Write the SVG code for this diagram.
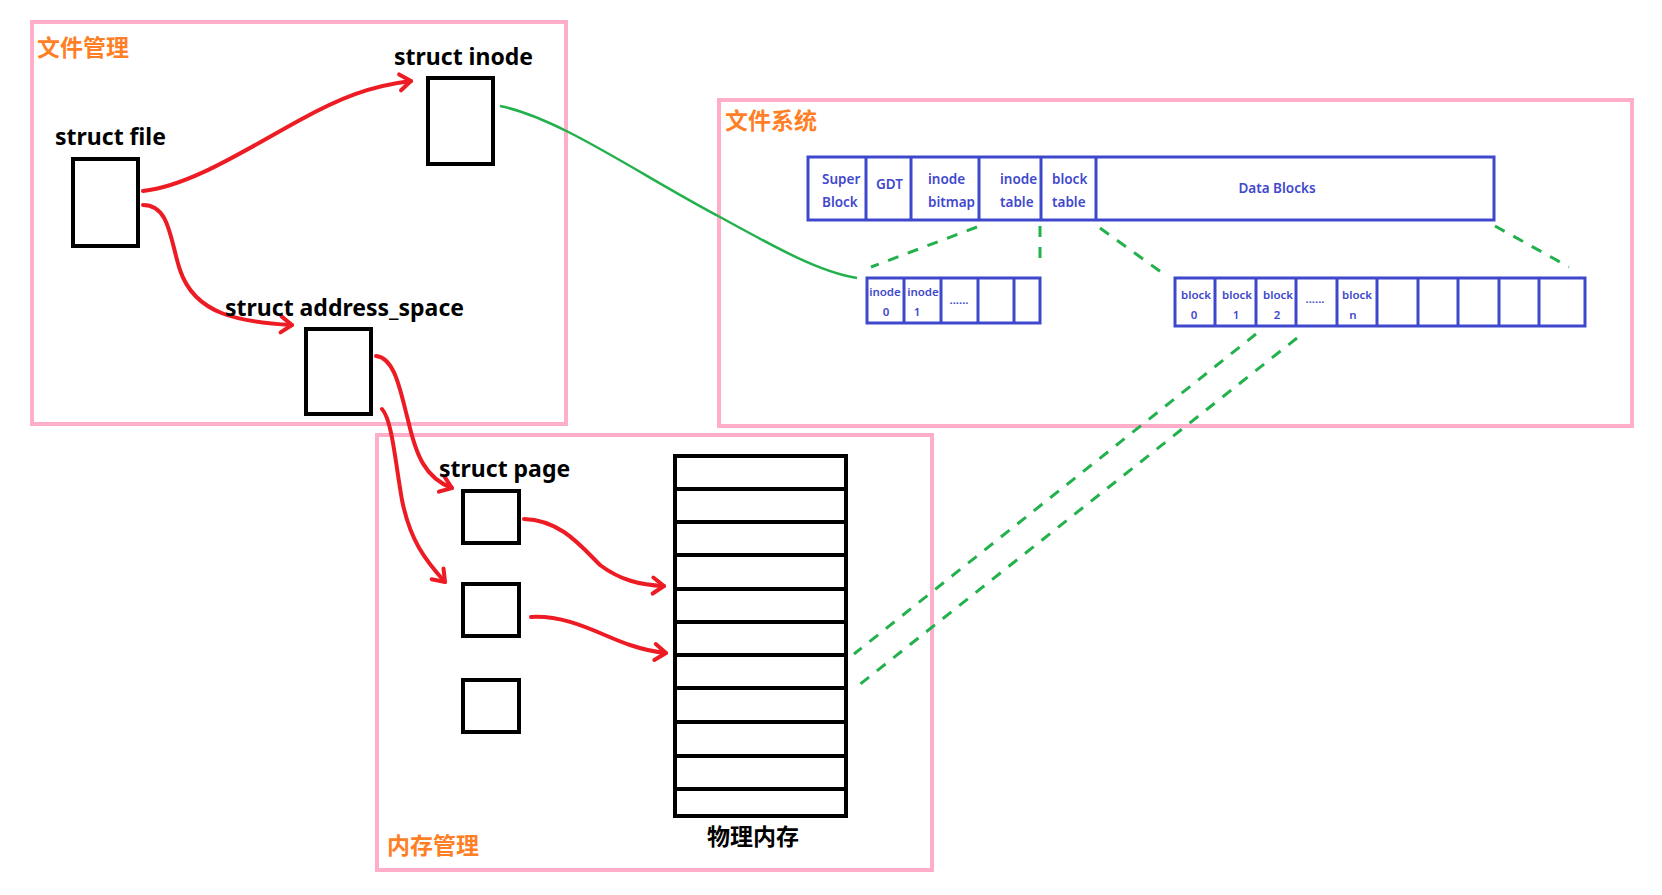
<svg xmlns="http://www.w3.org/2000/svg" width="1662" height="895" viewBox="0 0 1662 895">
<style>
.pink{fill:none;stroke:#ffaec9;stroke-width:4}
.title{font-family:"Noto Sans CJK SC","Noto Sans",sans-serif;font-weight:700;font-size:23px;fill:#ff7f27}
.lbl{font-family:"Noto Sans","Liberation Sans",sans-serif;font-weight:700;font-size:23px;fill:#000}
.cjk{font-family:"Noto Sans CJK SC",sans-serif;font-weight:700;font-size:23px;fill:#000}
.box{fill:none;stroke:#000;stroke-width:4}
.bbox{fill:none;stroke:#3f48cc;stroke-width:3}
.bt{font-family:"Noto Sans","Open Sans",sans-serif;font-weight:600;font-size:13.5px;fill:#3f48cc}
.st{font-family:"Noto Sans","Open Sans",sans-serif;font-weight:600;font-size:11.5px;fill:#3f48cc}
.red{fill:none;stroke:#ed1c24;stroke-width:4;stroke-linecap:round;marker-end:url(#ah)}
.gs{fill:none;stroke:#22b14c;stroke-width:2.5}
.gd{fill:none;stroke:#22b14c;stroke-width:3;stroke-dasharray:11 10}
</style>
<defs>
<marker id="ah" markerUnits="userSpaceOnUse" markerWidth="24" markerHeight="24" viewBox="0 0 24 24" refX="18" refY="12" orient="auto">
<path d="M7,4 L18,12 L7,20" fill="none" stroke="#ed1c24" stroke-width="4" stroke-linecap="round" stroke-linejoin="round"/>
</marker>
</defs>
<rect width="1662" height="895" fill="#fff"/>
<g id="containers">
<rect class="pink" x="32" y="22" width="534" height="402"/>
<rect class="pink" x="719" y="100" width="913" height="326"/>
<rect class="pink" x="377" y="435" width="555" height="435"/>
<text class="title" x="37" y="56">文件管理</text>
<text class="title" x="725" y="129">文件系统</text>
<text class="title" x="387" y="854">内存管理</text>
</g>
<g id="connectors">
<path class="red" d="M143,191 C190,186 245,150 300,120 C340,98 370,86 411,81"/>
<path class="red" d="M143,205 C170,205 170,240 180,270 C195,315 240,322 292,325"/>
<path class="red" d="M376,356 C395,358 400,390 408,420 C416,455 425,478 452,488"/>
<path class="red" d="M382,409 C392,420 395,460 402,500 C410,540 425,560 445,582"/>
<path class="red" d="M524,519 C560,520 580,545 600,565 C620,580 640,585 664,586"/>
<path class="red" d="M531,617 C570,615 600,635 630,645 C645,650 655,652 666,653"/>
<path class="gs" d="M500,106 C560,118 640,175 720,217 C780,250 820,272 857,278"/>
<path class="gd" d="M977,227 L871,267"/>
<path class="gd" d="M1040,226 L1040,268"/>
<path class="gd" d="M1100,228 L1161,272"/>
<path class="gd" d="M1495,226 L1569,267"/>
<path class="gd" d="M1256,334 L854,654"/>
<path class="gd" d="M1297,338 L854,689"/>
</g>
<g id="struct-file">
<text class="lbl" x="55" y="145">struct file</text>
<rect class="box" x="73" y="159" width="65" height="87"/>
</g>
<g id="struct-inode">
<text class="lbl" x="394" y="65">struct inode</text>
<rect class="box" x="428" y="78" width="65" height="86"/>
</g>
<g id="struct-address-space">
<text class="lbl" x="225" y="316">struct address_space</text>
<rect class="box" x="306" y="329" width="65" height="85"/>
</g>
<g id="struct-page">
<text class="lbl" x="439" y="477">struct page</text>
<rect class="box" x="463" y="491" width="56" height="52"/>
<rect class="box" x="463" y="584" width="56" height="52"/>
<rect class="box" x="463" y="680" width="56" height="52"/>
</g>
<g id="physical-memory">
<rect class="box" x="675" y="456" width="171" height="360"/>
<path d="M675,489H846M675,522H846M675,555H846M675,589H846M675,622H846M675,655H846M675,688H846M675,722H846M675,756H846M675,789H846" stroke="#000" stroke-width="4"/>
<text class="cjk" x="707" y="845">物理内存</text>
</g>
<g id="fs-layout">
<rect class="bbox" x="808" y="157" width="686" height="63"/>
<path d="M866,157V220M911,157V220M979,157V220M1041,157V220M1096,157V220" stroke="#3f48cc" stroke-width="3"/>
<text class="bt" x="822" y="184">Super</text>
<text class="bt" x="822" y="207">Block</text>
<text class="bt" x="876" y="189">GDT</text>
<text class="bt" x="928" y="184">inode</text>
<text class="bt" x="928" y="207">bitmap</text>
<text class="bt" x="1000" y="184">inode</text>
<text class="bt" x="1000" y="207">table</text>
<text class="bt" x="1052" y="184">block</text>
<text class="bt" x="1052" y="207">table</text>
<text class="bt" x="1277" y="193" text-anchor="middle">Data Blocks</text>
</g>
<g id="inode-table">
<rect class="bbox" x="867" y="278" width="173" height="45"/>
<path d="M904,278V323M941,278V323M978,278V323M1014,278V323" stroke="#3f48cc" stroke-width="3"/>
<text class="st" x="885" y="296" text-anchor="middle">inode</text>
<text class="st" x="886" y="316" text-anchor="middle">0</text>
<text class="st" x="923" y="296" text-anchor="middle">inode</text>
<text class="st" x="917" y="316" text-anchor="middle">1</text>
<text class="st" x="959" y="304" text-anchor="middle">......</text>
</g>
<g id="data-blocks">
<rect class="bbox" x="1175" y="278" width="410" height="48"/>
<path d="M1215,278V326M1256,278V326M1296,278V326M1337,278V326M1377,278V326M1418,278V326M1458,278V326M1499,278V326M1539,278V326" stroke="#3f48cc" stroke-width="3"/>
<text class="st" x="1196" y="299" text-anchor="middle">block</text>
<text class="st" x="1194" y="319" text-anchor="middle">0</text>
<text class="st" x="1237" y="299" text-anchor="middle">block</text>
<text class="st" x="1236" y="319" text-anchor="middle">1</text>
<text class="st" x="1278" y="299" text-anchor="middle">block</text>
<text class="st" x="1277" y="319" text-anchor="middle">2</text>
<text class="st" x="1315" y="303" text-anchor="middle">......</text>
<text class="st" x="1357" y="299" text-anchor="middle">block</text>
<text class="st" x="1353" y="319" text-anchor="middle">n</text>
</g>
</svg>
